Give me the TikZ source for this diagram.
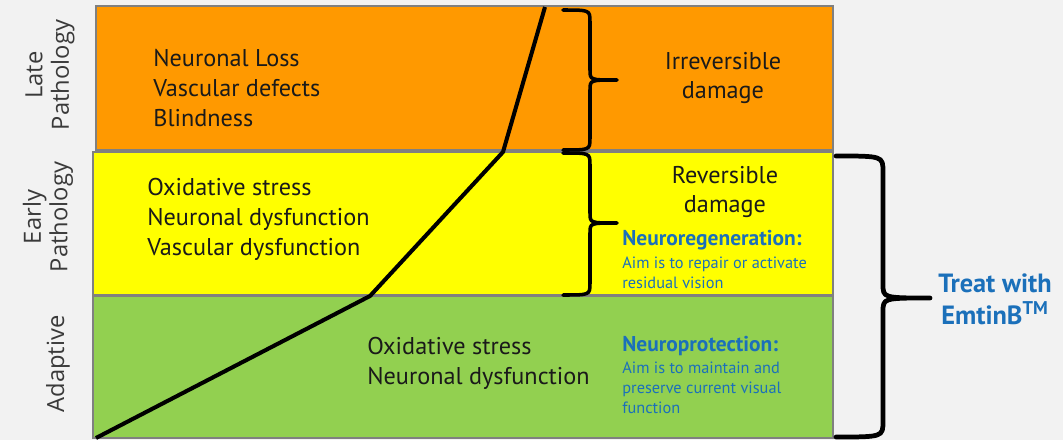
\documentclass[tikz,border=0pt]{standalone}
\usepackage{fontspec}
\setmainfont{PT Sans}
\newfontfamily\labelfont{Open Sans}
\definecolor{bgc}{HTML}{F2F2F2}
\definecolor{orangec}{HTML}{FF9900}
\definecolor{yellowc}{HTML}{FFFF00}
\definecolor{greenc}{HTML}{92D050}
\definecolor{bluec}{HTML}{1B70BA}
\definecolor{textc}{HTML}{1A1A1A}
\definecolor{labc}{HTML}{3A3A3A}
\tikzset{
  body/.style={inner sep=0pt, align=left, anchor=west, text=textc, font=\fontsize{13.8}{17}\selectfont},
  cbody/.style={inner sep=0pt, align=center, text=textc, font=\fontsize{13.8}{17}\selectfont},
  bluetitle/.style={inner sep=0pt, anchor=west, text=bluec, font=\fontsize{12.2}{14}\selectfont\bfseries},
  bluebody/.style={inner sep=0pt, anchor=west, align=left, text=bluec, font=\fontsize{9.3}{11.3}\selectfont},
  sidelabel/.style={inner sep=0pt, rotate=90, align=center, text=labc, font=\labelfont\fontsize{13.5}{15}\selectfont},
  bracestyle/.style={line width=2pt, line cap=round, line join=round},
  curve/.style={line width=2.3pt, line join=round}
}
\begin{document}
\begin{tikzpicture}[x=0.02cm, y=-0.02cm]
\useasboundingbox (0,0) rectangle (1063,440);
\fill[bgc] (0,0) rectangle (1063,440);
% bands
\draw[draw=black!50, line width=0.6pt, fill=orangec] (96,6) rectangle (833,150);
\draw[draw=black!50, line width=0.6pt, fill=yellowc] (93,152) rectangle (833,295);
\draw[draw=black!50, line width=0.6pt, fill=greenc] (93,296) rectangle (833,438);
% curve
\coordinate (p0) at (96,438);
\coordinate (p1) at (370,296);
\coordinate (p2) at (503,152);
\coordinate (p3) at (545,7);
\draw[curve] (p0) -- (p1) -- (p2) -- (p3);
% braces
\draw[bracestyle] (563,10) .. controls (590,10) and (590,10) .. (590,22) -- (590,70)
  .. controls (590,80) and (590,80) .. (617,80)
  .. controls (590,80) and (590,80) .. (590,90) -- (590,138)
  .. controls (590,150) and (590,150) .. (563,150);
\draw[bracestyle] (563,153) .. controls (590,153) and (590,153) .. (590,165) -- (590,213)
  .. controls (590,223) and (590,223) .. (617,223)
  .. controls (590,223) and (590,223) .. (590,233) -- (590,283)
  .. controls (590,295) and (590,295) .. (563,295);
\draw[bracestyle, line width=2.7pt] (836,156) .. controls (883,156) and (883,156) .. (883,172) -- (883,284)
  .. controls (883,298) and (883,298) .. (930,298)
  .. controls (883,298) and (883,298) .. (883,312) -- (883,421)
  .. controls (883,437) and (883,437) .. (836,437);
% texts
\node[body] (late) at (153,88) {Neuronal Loss\\Vascular defects\\Blindness};
\node[cbody] (irr) at (723,78) {Irreversible\\damage};
\node[body] (early) at (147,219) {Oxidative stress\\Neuronal dysfunction\\Vascular dysfunction};
\node[cbody] (rev) at (725,192) {Reversible\\damage};
\node[bluetitle] (regen) at (622,240) {Neuroregeneration:};
\node[bluebody] (regenb) at (622,273) {Aim is to repair or activate\\residual vision};
\node[body] (adapt) at (367,363) {Oxidative stress\\Neuronal dysfunction};
\node[bluetitle] (prot) at (622,346) {Neuroprotection:};
\node[bluebody] (protb) at (622,388) {Aim is to maintain and\\preserve current visual\\function};
\node[inner sep=0pt, align=center, text=bluec, font=\fontsize{15}{18}\selectfont\bfseries] (treat) at (995,299) {Treat with\\EmtinB\textsuperscript{TM}};
% side labels
\node[sidelabel] (lLate) at (50,75) {Late\\Pathology};
\node[sidelabel] (lEarly) at (48,217) {Early\\Pathology};
\node[sidelabel] (lAdapt) at (58,364) {Adaptive};
\end{tikzpicture}
\end{document}
